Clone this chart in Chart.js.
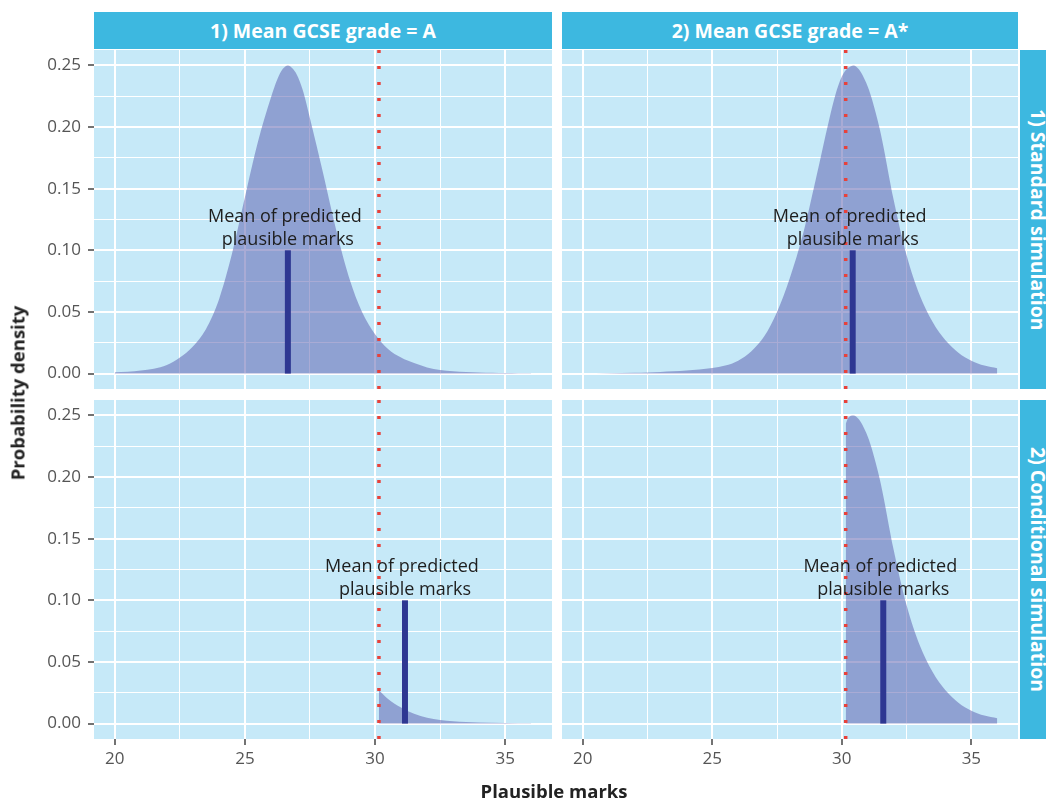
<!DOCTYPE html>
<html>
<head>
<meta charset="utf-8">
<script src="https://cdn.jsdelivr.net/npm/chart.js@4.4.1/dist/chart.umd.min.js"></script>
<style>
  html, body { margin: 0; padding: 0; background: #fff; }
  body { width: 1046px; height: 798px; position: relative; overflow: hidden; font-family: "Open Sans", "Noto Sans", sans-serif; }
  canvas { position: absolute; }
  .strip-top { position: absolute; top: 12px; height: 37px; background: #3db8e0; color: #fff;
    font-weight: 700; font-size: 19.5px; display: flex; align-items: center; justify-content: center; }
  .strip-right { position: absolute; left: 1020px; width: 36px; background: #3db8e0; color: #fff;
    font-weight: 700; font-size: 19.5px; writing-mode: vertical-rl; display: flex; align-items: center; justify-content: center; }
  .axis-title { position: absolute; color: #222; font-weight: 700; font-size: 18.5px; white-space: nowrap; }
</style>
</head>
<body>
<div class="strip-top" style="left:94px; width:458px;" id="col1"></div>
<div class="strip-top" style="left:562px; width:456px;" id="col2"></div>
<div class="strip-right" style="top:50px; height:339px;" id="row1"></div>
<div class="strip-right" style="top:400px; height:339px;" id="row2"></div>

<canvas id="tl" width="552" height="339" style="left:0; top:50px;"></canvas>
<canvas id="tr" width="456" height="339" style="left:562px; top:50px;"></canvas>
<canvas id="bl" width="552" height="398" style="left:0; top:400px;"></canvas>
<canvas id="br" width="456" height="398" style="left:562px; top:400px;"></canvas>

<div class="axis-title" id="ytitle" style="left:17px; top:393px; transform: translate(-50%, -50%) rotate(-90deg);">Probability density</div>
<div class="axis-title" id="xtitle" style="left:554px; top:790px; transform: translate(-50%, -50%);">Plausible marks</div>

<script>
// ===== DONNÉES =====
const colLabels = ['1) Mean GCSE grade = A', '2) Mean GCSE grade = A*'];
const rowLabels = ['1) Standard simulation', '2) Conditional simulation'];

const xMajor = [20, 25, 30, 35];
const xMinor = [22.5, 27.5, 32.5];
const yMajor = [0, 0.05, 0.10, 0.15, 0.20, 0.25];
const yMinor = [0.025, 0.075, 0.125, 0.175, 0.225];

// standard simulation, grade A
const marksStdA = [20, 20.5, 21, 21.5, 22, 22.5, 23, 23.5, 24, 24.5, 25, 25.5, 26, 26.25, 26.45, 26.65, 26.85,
  27.05, 27.25, 27.5, 28, 28.5, 29, 29.5, 30, 30.5, 31, 31.5, 32, 32.5, 33, 33.5, 34, 34.5, 35, 35.5, 36];
const densStdA = [0.001, 0.0015, 0.0025, 0.004, 0.007, 0.013, 0.022, 0.036, 0.060, 0.097, 0.143, 0.188, 0.224, 0.239, 0.247, 0.250, 0.247,
  0.240, 0.228, 0.207, 0.163, 0.117, 0.078, 0.050, 0.032, 0.020, 0.013, 0.0085, 0.005, 0.003, 0.0019, 0.0013, 0.0009, 0.0006, 0.0004, 0.0003, 0.0002];

// standard simulation, grade A*
const marksStdAs = [20, 21, 22, 22.5, 23, 23.5, 24, 24.5, 25, 25.5, 26, 26.5, 27, 27.5, 28, 28.5, 29, 29.5, 29.75, 30,
  30.25, 30.45, 30.65, 30.85, 31.05, 31.25, 31.5, 32, 32.5, 33, 33.5, 34, 34.5, 35, 35.5, 36];
const densStdAs = [0.0001, 0.0003, 0.0006, 0.0009, 0.0013, 0.0018, 0.0025, 0.0033, 0.0045, 0.0065, 0.0105, 0.018, 0.030, 0.050, 0.078, 0.113, 0.158, 0.205, 0.226, 0.241,
  0.248, 0.250, 0.247, 0.240, 0.230, 0.216, 0.195, 0.141, 0.096, 0.064, 0.042, 0.027, 0.017, 0.0105, 0.0065, 0.0044];

// conditional simulation, grade A
const marksCondA = [30.15, 30.5, 31, 31.5, 32, 32.5, 33, 33.5, 34, 35, 36];
const densCondA = [0.027, 0.020, 0.013, 0.008, 0.0048, 0.003, 0.0018, 0.0012, 0.0008, 0.0004, 0.0002];

// conditional simulation, grade A*
const marksCondAs = [30.15, 30.25, 30.45, 30.65, 30.85, 31.05, 31.25, 31.5, 32, 32.5, 33, 33.5, 34, 34.5, 35, 35.5, 36];
const densCondAs = [0.243, 0.248, 0.250, 0.247, 0.240, 0.230, 0.216, 0.195, 0.141, 0.096, 0.064, 0.042, 0.027, 0.017, 0.0105, 0.0065, 0.0044];

const cutoff = 30.15;
const meanMarks = { tl: 26.65, tr: 30.42, bl: 31.15, br: 31.6 };
const meanBarTop = 0.10;
const noteLines = ['Mean of predicted', 'plausible marks'];

// ===== STYLE =====
const panelBg = '#c6e9f8';
const areaColor = 'rgba(99, 102, 179, 0.55)';
const barColor = '#2e3792';
const cutColor = '#e8413a';
const font = '"Open Sans", "Noto Sans", sans-serif';

document.getElementById('col1').textContent = colLabels[0];
document.getElementById('col2').textContent = colLabels[1];
document.getElementById('row1').textContent = rowLabels[0];
document.getElementById('row2').textContent = rowLabels[1];

const isMajor = (v, majors) => majors.some(m => Math.abs(m - v) < 1e-6);

const panelBackground = {
  id: 'panelBackground',
  beforeDraw(chart) {
    const { ctx, chartArea: a } = chart;
    ctx.save();
    ctx.fillStyle = panelBg;
    ctx.fillRect(a.left, a.top, a.right - a.left, a.bottom - a.top);
    ctx.restore();
  }
};

const meanNote = {
  id: 'meanNote',
  afterDatasetsDraw(chart, args, opts) {
    const { ctx, scales: { x, y } } = chart;
    const px = x.getPixelForValue(opts.at);
    ctx.save();
    ctx.font = '18px ' + font;
    ctx.fillStyle = '#1e1e1e';
    ctx.textAlign = 'center';
    ctx.textBaseline = 'middle';
    ctx.fillText(noteLines[0], px - 3, y.getPixelForValue(0.127));
    ctx.fillText(noteLines[1], px, y.getPixelForValue(0.1085));
    ctx.restore();
  }
};

// no extra room for the first/last tick labels: panels must line up exactly
const noPad = s => { s.paddingTop = 0; s.paddingBottom = 0; s.paddingLeft = 0; s.paddingRight = 0; };

function makePanel(id, marks, dens, mean, showY, showX) {
  const ctx = document.getElementById(id).getContext('2d');
  const pts = marks.map((m, i) => ({ x: m, y: dens[i] }));
  return new Chart(ctx, {
    type: 'line',
    data: {
      datasets: [
        {
          data: [{ x: mean, y: 0 }, { x: mean, y: meanBarTop }],
          borderColor: barColor, borderWidth: 6, borderCapStyle: 'butt',
          pointRadius: 0, tension: 0, fill: false, order: 1
        },
        {
          data: [{ x: cutoff, y: -0.0125 }, { x: cutoff, y: 0.2625 }],
          borderColor: cutColor, borderWidth: 3.5, borderDash: [3, 13], borderCapStyle: 'butt',
          pointRadius: 0, tension: 0, fill: false, order: 2
        },
        {
          data: pts,
          borderWidth: 0, borderColor: 'rgba(0,0,0,0)', backgroundColor: areaColor,
          pointRadius: 0, fill: 'origin', cubicInterpolationMode: 'monotone', order: 3
        }
      ]
    },
    options: {
      responsive: false,
      animation: false,
      devicePixelRatio: 1,
      events: [],
      layout: { autoPadding: false, padding: 0 },
      plugins: { legend: { display: false }, tooltip: { enabled: false }, meanNote: { at: mean } },
      scales: {
        x: {
          type: 'linear', min: 19.2, max: 36.8,
          afterBuildTicks: s => { s.ticks = xMajor.concat(xMinor).sort((a, b) => a - b).map(v => ({ value: v })); },
          afterFit: s => { s.height = showX ? 59 : 0; noPad(s); },
          border: { display: false },
          grid: {
            color: '#fff',
            lineWidth: c => isMajor(c.tick.value, xMajor) ? 2 : 1,
            drawTicks: showX, tickLength: 6, tickWidth: 1.5,
            tickColor: c => isMajor(c.tick.value, xMajor) ? '#444' : 'rgba(0,0,0,0)'
          },
          ticks: {
            display: showX, autoSkip: false, maxRotation: 0, padding: 4,
            color: '#555', font: { family: font, size: 17 },
            callback: v => isMajor(v, xMajor) ? String(v) : ''
          }
        },
        y: {
          type: 'linear', min: -0.0125, max: 0.2625,
          afterBuildTicks: s => { s.ticks = yMajor.concat(yMinor).sort((a, b) => a - b).map(v => ({ value: v })); },
          afterFit: s => { s.width = showY ? 94 : 0; noPad(s); },
          border: { display: false },
          grid: {
            color: '#fff',
            lineWidth: c => isMajor(c.tick.value, yMajor) ? 2 : 1,
            drawTicks: showY, tickLength: 6, tickWidth: 1.5,
            tickColor: c => isMajor(c.tick.value, yMajor) ? '#444' : 'rgba(0,0,0,0)'
          },
          ticks: {
            display: showY, autoSkip: false, padding: 7,
            color: '#555', font: { family: font, size: 17 },
            callback: v => isMajor(v, yMajor) ? v.toFixed(2) : ''
          }
        }
      }
    },
    plugins: [panelBackground, meanNote]
  });
}

makePanel('tl', marksStdA, densStdA, meanMarks.tl, true, false);
makePanel('tr', marksStdAs, densStdAs, meanMarks.tr, false, false);
makePanel('bl', marksCondA, densCondA, meanMarks.bl, true, true);
makePanel('br', marksCondAs, densCondAs, meanMarks.br, false, true);
</script>
</body>
</html>
